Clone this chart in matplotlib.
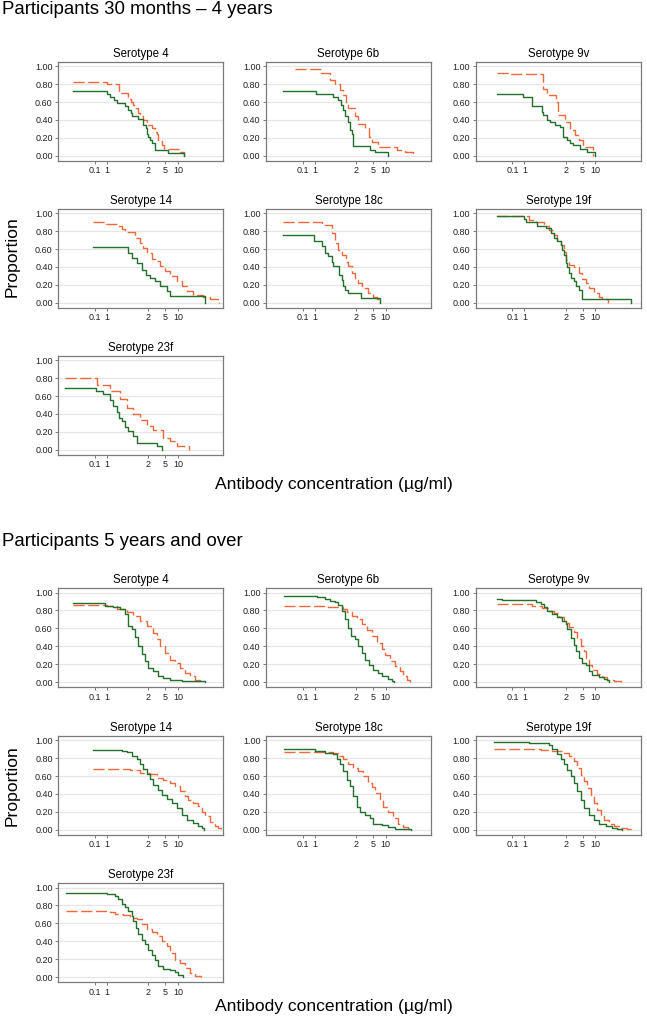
import matplotlib
matplotlib.use('Agg')
import matplotlib.pyplot as plt

plt.rcParams['font.family'] = ['Liberation Sans', 'DejaVu Sans']

serotypes = ['4', '6b', '9v', '14', '18c', '19f', '23f']
section_titles = ['Participants 30 months \u2013 4 years', 'Participants 5 years and over']
x_tick_values = [0.114, 0.217, 2, 5, 10]
x_tick_labels = ['0.1', '1', '2', '5', '10']
y_tick_values = [0.0, 0.2, 0.4, 0.6, 0.8, 1.0]
y_tick_labels = ['0.00', '0.20', '0.40', '0.60', '0.80', '1.00']

# ---------- Participants 30 months - 4 years ----------
young_4_solid_conc = [0.034, 0.213, 0.255, 0.317, 0.379, 0.574, 0.686, 0.776, 0.851, 1.175, 1.48, 1.78, 1.84, 1.94, 2.21, 2.41, 2.89, 5.93, 13.8]
young_4_solid_prop = [0.724, 0.69, 0.655, 0.62, 0.586, 0.552, 0.517, 0.483, 0.448, 0.414, 0.345, 0.31, 0.241, 0.207, 0.172, 0.138, 0.069, 0.034, 0]
young_4_dash_conc = [0.034, 0.213, 0.415, 0.686, 0.793, 0.898, 0.984, 1.175, 1.29, 1.54, 1.84, 2.41, 2.89, 3.15, 3.46, 4.13, 4.78, 11.1, 13.8]
young_4_dash_prop = [0.828, 0.80, 0.70, 0.64, 0.60, 0.567, 0.53, 0.48, 0.44, 0.40, 0.345, 0.31, 0.27, 0.24, 0.17, 0.12, 0.08, 0.04, 0]

young_6b_solid_conc = [0.040, 0.230, 0.593, 0.776, 0.898, 1.02, 1.11, 1.29, 1.46, 1.60, 1.74, 4.29, 5.62, 11.5]
young_6b_solid_prop = [0.724, 0.69, 0.655, 0.62, 0.567, 0.51, 0.44, 0.38, 0.29, 0.24, 0.108, 0.07, 0.037, 0]
young_6b_dash_conc = [0.075, 0.305, 0.496, 0.65, 0.851, 1.02, 1.16, 1.33, 1.91, 2.28, 3.27, 4.06, 4.86, 6.71, 18.1, 28.3, 44.3]
young_6b_dash_prop = [0.97, 0.92, 0.85, 0.80, 0.74, 0.68, 0.60, 0.53, 0.44, 0.36, 0.31, 0.21, 0.157, 0.10, 0.063, 0.037, 0]

young_9v_solid_conc = [0.0488, 0.198, 0.322, 0.553, 0.605, 0.723, 0.865, 1.13, 1.48, 1.78, 2.13, 2.54, 3.05, 4.36, 6.26, 9.79]
young_9v_solid_prop = [0.69, 0.66, 0.556, 0.49, 0.455, 0.40, 0.38, 0.343, 0.317, 0.21, 0.175, 0.145, 0.12, 0.08, 0.045, 0]
young_9v_dash_conc = [0.0488, 0.0917, 0.583, 0.723, 1.19, 1.36, 1.94, 2.54, 3.33, 4.22, 5.23, 8.98]
young_9v_dash_prop = [0.93, 0.91, 0.75, 0.68, 0.60, 0.455, 0.38, 0.287, 0.23, 0.175, 0.10, 0]

young_14_solid_conc = [0.1, 0.686, 0.819, 1.07, 1.40, 1.78, 2.21, 2.89, 3.79, 5.41, 6.50, 42.0]
young_14_solid_prop = [0.623, 0.556, 0.50, 0.444, 0.37, 0.313, 0.276, 0.24, 0.183, 0.127, 0.078, 0]
young_14_dash_conc = [0.1, 0.195, 0.40, 0.478, 0.574, 0.984, 1.29, 1.54, 1.84, 2.41, 2.89, 3.79, 4.96, 6.50, 9.27, 12.1, 15.9, 22.8, 39.1, 56.1, 92.7]
young_14_dash_prop = [0.90, 0.88, 0.855, 0.82, 0.787, 0.725, 0.67, 0.61, 0.556, 0.49, 0.463, 0.41, 0.35, 0.30, 0.24, 0.183, 0.127, 0.09, 0.07, 0.04, 0]

young_18c_solid_conc = [0.040, 0.213, 0.317, 0.379, 0.453, 0.544, 0.593, 0.806, 0.932, 1.02, 1.11, 1.33, 2.60, 7.35]
young_18c_solid_prop = [0.757, 0.69, 0.63, 0.56, 0.52, 0.46, 0.41, 0.31, 0.25, 0.19, 0.146, 0.108, 0.052, 0]
young_18c_dash_conc = [0.040, 0.317, 0.544, 0.65, 0.776, 0.932, 1.175, 1.33, 1.60, 1.91, 2.28, 2.74, 3.91, 5.12, 6.15, 7.35]
young_18c_dash_prop = [0.90, 0.866, 0.78, 0.67, 0.59, 0.537, 0.46, 0.41, 0.33, 0.257, 0.22, 0.164, 0.108, 0.07, 0.04, 0]

young_19f_solid_conc = [0.0507, 0.213, 0.233, 0.438, 0.686, 0.898, 1.07, 1.29, 1.54, 1.69, 1.84, 2.02, 2.21, 2.41, 2.64, 3.15, 3.46, 4.13, 4.96, 67]
young_19f_solid_prop = [0.966, 0.935, 0.90, 0.86, 0.836, 0.78, 0.724, 0.687, 0.65, 0.59, 0.537, 0.44, 0.40, 0.33, 0.276, 0.24, 0.19, 0.146, 0.04, 0]
young_19f_dash_conc = [0.0507, 0.279, 0.40, 0.625, 0.819, 1.07, 1.29, 1.54, 1.84, 2.02, 2.41, 3.15, 4.13, 4.96, 5.93, 7.08, 9.27, 12.1, 14.6, 20.2]
young_19f_dash_prop = [0.966, 0.93, 0.90, 0.86, 0.81, 0.757, 0.70, 0.65, 0.57, 0.48, 0.425, 0.40, 0.33, 0.265, 0.22, 0.164, 0.108, 0.07, 0.04, 0]

young_23f_solid_conc = [0.0226, 0.120, 0.178, 0.255, 0.305, 0.365, 0.422, 0.478, 0.574, 0.686, 0.865, 1.07, 3.15, 4.29]
young_23f_solid_prop = [0.687, 0.66, 0.62, 0.56, 0.493, 0.418, 0.354, 0.317, 0.26, 0.205, 0.157, 0.075, 0.037, 0]
young_23f_dash_conc = [0.0226, 0.124, 0.255, 0.438, 0.625, 0.898, 1.29, 1.84, 2.64, 4.53, 6.50, 9.27, 18.1]
young_23f_dash_prop = [0.80, 0.72, 0.66, 0.567, 0.466, 0.40, 0.336, 0.27, 0.224, 0.13, 0.093, 0.037, 0]

# ---------- Participants 5 years and over ----------
old_4_solid_conc = [0.0354, 0.195, 0.305, 0.438, 0.574, 0.686, 0.819, 0.984, 1.175, 1.40, 1.69, 2.02, 2.64, 3.46, 4.53, 6.50, 12.1, 42.9]
old_4_solid_prop = [0.88, 0.853, 0.835, 0.816, 0.76, 0.628, 0.59, 0.50, 0.40, 0.31, 0.233, 0.158, 0.12, 0.07, 0.045, 0.026, 0.011, 0]
old_4_dash_conc = [0.0354, 0.213, 0.365, 0.625, 0.898, 1.29, 1.84, 2.64, 3.15, 3.79, 4.96, 6.50, 8.51, 11.1, 14.6, 19.1, 25.0, 32.7]
old_4_dash_prop = [0.86, 0.85, 0.816, 0.786, 0.74, 0.684, 0.628, 0.55, 0.477, 0.40, 0.327, 0.25, 0.214, 0.158, 0.10, 0.064, 0.026, 0]

old_6b_solid_conc = [0.0422, 0.242, 0.379, 0.496, 0.65, 0.776, 0.932, 1.11, 1.33, 1.54, 1.91, 2.21, 2.74, 3.27, 4.06, 5.12, 6.71, 8.06, 11.5, 13.8, 15.6]
old_6b_solid_prop = [0.962, 0.947, 0.93, 0.91, 0.89, 0.86, 0.797, 0.70, 0.609, 0.515, 0.477, 0.40, 0.327, 0.25, 0.195, 0.14, 0.10, 0.064, 0.034, 0.008, 0]
old_6b_dash_conc = [0.0422, 0.221, 0.453, 1.02, 1.22, 1.60, 2.09, 2.74, 3.59, 4.70, 6.15, 8.06, 9.63, 12.6, 16.5, 21.6, 25.8, 31.0, 37.1]
old_6b_dash_prop = [0.853, 0.846, 0.835, 0.816, 0.778, 0.74, 0.70, 0.647, 0.583, 0.515, 0.44, 0.372, 0.308, 0.233, 0.177, 0.12, 0.07, 0.026, 0]

old_9v_solid_conc = [0.0507, 0.0664, 0.40, 0.524, 0.625, 0.751, 0.984, 1.29, 1.69, 2.02, 2.21, 2.64, 3.15, 3.46, 4.13, 4.96, 5.93, 7.08, 8.51, 12.1, 15.9, 19.1, 20.8]
old_9v_solid_prop = [0.925, 0.912, 0.90, 0.87, 0.835, 0.797, 0.76, 0.722, 0.684, 0.647, 0.59, 0.496, 0.42, 0.346, 0.27, 0.214, 0.195, 0.12, 0.083, 0.056, 0.038, 0.02, 0]
old_9v_dash_conc = [0.0507, 0.335, 0.574, 0.819, 1.07, 1.40, 1.84, 2.41, 3.15, 3.79, 4.53, 5.41, 5.93, 7.08, 8.51, 11.1, 14.6, 19.1, 27.3, 39.1]
old_9v_dash_prop = [0.872, 0.853, 0.823, 0.797, 0.77, 0.722, 0.665, 0.62, 0.56, 0.485, 0.40, 0.346, 0.27, 0.195, 0.14, 0.094, 0.056, 0.026, 0.008, 0]

old_14_solid_conc = [0.104, 0.478, 0.625, 0.819, 1.07, 1.29, 1.54, 1.84, 2.21, 2.64, 3.46, 4.13, 5.41, 7.08, 9.27, 12.1, 15.9, 22.8, 29.9, 35.7, 40.6]
old_14_solid_prop = [0.894, 0.883, 0.864, 0.826, 0.79, 0.732, 0.675, 0.62, 0.562, 0.506, 0.45, 0.392, 0.343, 0.30, 0.24, 0.166, 0.11, 0.072, 0.042, 0.015, 0]
old_14_dash_conc = [0.104, 0.751, 1.29, 2.21, 3.15, 4.53, 6.50, 8.51, 11.1, 14.6, 17.4, 22.8, 29.9, 35.7, 42.9, 56.1, 73.6, 87.8, 99.5]
old_14_dash_prop = [0.675, 0.664, 0.638, 0.62, 0.58, 0.555, 0.525, 0.487, 0.43, 0.374, 0.336, 0.30, 0.27, 0.204, 0.15, 0.09, 0.042, 0.015, 0]

old_18c_solid_conc = [0.0422, 0.221, 0.379, 0.593, 0.712, 0.851, 1.02, 1.22, 1.46, 1.74, 2.09, 2.50, 3.27, 4.29, 5.12, 8.06, 11.5, 16.5, 39.1]
old_18c_solid_prop = [0.906, 0.88, 0.853, 0.842, 0.786, 0.73, 0.654, 0.56, 0.485, 0.372, 0.26, 0.203, 0.165, 0.128, 0.07, 0.053, 0.034, 0.005, 0]
old_18c_dash_conc = [0.0422, 0.593, 0.776, 1.02, 1.33, 1.74, 2.28, 2.99, 3.91, 4.70, 5.62, 7.35, 8.79, 11.5, 15.1, 19.7, 25.8, 33.8, 39.1]
old_18c_dash_prop = [0.868, 0.853, 0.823, 0.786, 0.74, 0.69, 0.654, 0.60, 0.523, 0.477, 0.41, 0.335, 0.26, 0.203, 0.128, 0.07, 0.034, 0.004, 0]

old_19f_solid_conc = [0.0422, 0.279, 0.478, 0.819, 0.984, 1.29, 1.54, 1.84, 2.21, 2.64, 3.15, 3.79, 4.53, 5.41, 7.08, 9.27, 12.1, 17.4, 25.0, 32.7, 42.9]
old_19f_solid_prop = [0.985, 0.974, 0.966, 0.944, 0.90, 0.842, 0.786, 0.73, 0.673, 0.60, 0.523, 0.43, 0.335, 0.24, 0.165, 0.11, 0.07, 0.04, 0.023, 0.011, 0]
old_19f_dash_conc = [0.0422, 0.524, 0.984, 1.69, 2.41, 3.15, 3.79, 4.53, 5.41, 6.50, 7.76, 9.27, 11.1, 13.3, 15.9, 20.8, 27.3, 39.1, 56.1, 80.2]
old_19f_dash_prop = [0.906, 0.89, 0.88, 0.853, 0.823, 0.767, 0.69, 0.617, 0.54, 0.466, 0.372, 0.297, 0.22, 0.165, 0.11, 0.064, 0.04, 0.015, 0.004, 0]

old_23f_solid_conc = [0.0238, 0.221, 0.335, 0.40, 0.478, 0.574, 0.686, 0.819, 0.898, 1.04, 1.175, 1.40, 1.69, 2.02, 2.41, 2.89, 3.46, 4.53, 6.50, 8.51, 10.2, 12.8]
old_23f_solid_prop = [0.94, 0.928, 0.91, 0.872, 0.816, 0.778, 0.74, 0.684, 0.628, 0.553, 0.477, 0.42, 0.365, 0.308, 0.252, 0.195, 0.12, 0.09, 0.075, 0.053, 0.026, 0]
old_23f_dash_conc = [0.0238, 0.255, 0.335, 0.524, 0.751, 1.07, 1.40, 1.84, 2.41, 3.15, 4.13, 5.41, 6.50, 8.51, 11.1, 14.6, 19.1, 25.0, 34.6]
old_23f_dash_prop = [0.74, 0.722, 0.703, 0.69, 0.665, 0.647, 0.59, 0.534, 0.504, 0.459, 0.402, 0.346, 0.27, 0.195, 0.158, 0.10, 0.045, 0.015, 0]

young_panels = [
    (young_4_solid_conc, young_4_solid_prop, young_4_dash_conc, young_4_dash_prop),
    (young_6b_solid_conc, young_6b_solid_prop, young_6b_dash_conc, young_6b_dash_prop),
    (young_9v_solid_conc, young_9v_solid_prop, young_9v_dash_conc, young_9v_dash_prop),
    (young_14_solid_conc, young_14_solid_prop, young_14_dash_conc, young_14_dash_prop),
    (young_18c_solid_conc, young_18c_solid_prop, young_18c_dash_conc, young_18c_dash_prop),
    (young_19f_solid_conc, young_19f_solid_prop, young_19f_dash_conc, young_19f_dash_prop),
    (young_23f_solid_conc, young_23f_solid_prop, young_23f_dash_conc, young_23f_dash_prop),
]
old_panels = [
    (old_4_solid_conc, old_4_solid_prop, old_4_dash_conc, old_4_dash_prop),
    (old_6b_solid_conc, old_6b_solid_prop, old_6b_dash_conc, old_6b_dash_prop),
    (old_9v_solid_conc, old_9v_solid_prop, old_9v_dash_conc, old_9v_dash_prop),
    (old_14_solid_conc, old_14_solid_prop, old_14_dash_conc, old_14_dash_prop),
    (old_18c_solid_conc, old_18c_solid_prop, old_18c_dash_conc, old_18c_dash_prop),
    (old_19f_solid_conc, old_19f_solid_prop, old_19f_dash_conc, old_19f_dash_prop),
    (old_23f_solid_conc, old_23f_solid_prop, old_23f_dash_conc, old_23f_dash_prop),
]

# ---------- layout ----------
W, H = 647, 1024
fig = plt.figure(figsize=(W / 100, H / 100), dpi=100)
fig.patch.set_facecolor('white')

col_left = [58.3, 266.0, 475.7]
ax_w = 165.0
section_row_tops = [[62.0, 209.0, 356.0], [588.3, 736.0, 883.3]]
ax_h = 98.8

GREEN = '#23702a'
ORANGE = '#f0673a'
FRAME = '#7a7a7a'
GRID = '#e6e6e6'


def draw_panel(ax, data, title):
    sc, sp, dc, dp = data
    ax.set_xscale('log')
    ax.set_xlim(0.0157, 115)
    ax.set_ylim(-0.056, 1.048)
    for yv in y_tick_values:
        ax.axhline(yv, color=GRID, lw=0.9, zorder=0)
    ax.step(dc, dp, where='post', color=ORANGE, lw=1.0, dashes=(8.0, 2.6), zorder=2)
    ax.step(sc, sp, where='post', color=GREEN, lw=1.0, zorder=3)
    ax.set_xticks(x_tick_values)
    ax.set_xticklabels(x_tick_labels)
    ax.xaxis.set_minor_locator(matplotlib.ticker.NullLocator())
    ax.set_yticks(y_tick_values)
    ax.set_yticklabels(y_tick_labels)
    ax.tick_params(axis='both', which='major', labelsize=6.5, length=2.5, width=0.7,
                   color=FRAME, pad=1.5, labelcolor='#222222')
    for s in ax.spines.values():
        s.set_color(FRAME)
        s.set_linewidth(0.9)
    ax.set_title(title, fontsize=8.3, pad=3.5)


for sec, panels in enumerate([young_panels, old_panels]):
    tops = section_row_tops[sec]
    for i, data in enumerate(panels):
        r, c = divmod(i, 3)
        left = col_left[c]
        top = tops[r]
        ax = fig.add_axes([left / W, 1 - (top + ax_h) / H, ax_w / W, ax_h / H])
        draw_panel(ax, data, 'Serotype ' + serotypes[i])

# section titles and shared labels
fig.text(2 / W, 1 - 10 / H, section_titles[0], fontsize=13.4, ha='left', va='center')
fig.text(2 / W, 1 - 541 / H, section_titles[1], fontsize=13.4, ha='left', va='center')
fig.text(12 / W, 1 - 257 / H, 'Proportion', fontsize=12.6, rotation=90, ha='center', va='center')
fig.text(12 / W, 1 - 786 / H, 'Proportion', fontsize=12.6, rotation=90, ha='center', va='center')
fig.text(334 / W, 1 - 485 / H, 'Antibody concentration (\u00b5g/ml)', fontsize=12.6, ha='center', va='center')
fig.text(334 / W, 1 - 1007 / H, 'Antibody concentration (\u00b5g/ml)', fontsize=12.6, ha='center', va='center')

fig.savefig('out.png', dpi=100, facecolor='white')
